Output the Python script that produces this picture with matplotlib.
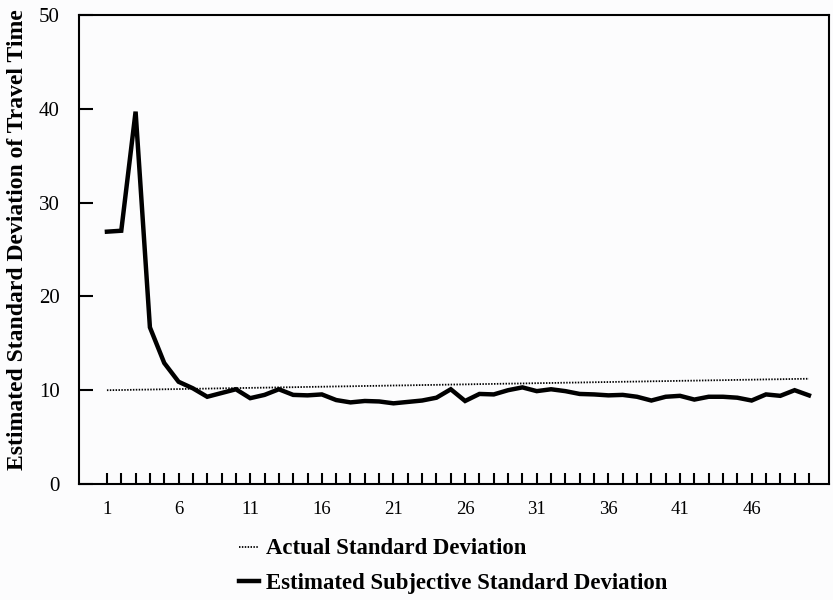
import matplotlib
matplotlib.use("Agg")
import matplotlib.pyplot as plt

# ============== Daten ==============
trials = list(range(1, 51))

estimated_sd = [
    26.9, 27.0, 39.7, 16.7, 12.9, 10.9, 10.2, 9.3, 9.7, 10.1,
    9.15, 9.5, 10.1, 9.5, 9.45, 9.55, 8.95, 8.7, 8.85, 8.8,
    8.6, 8.75, 8.9, 9.2, 10.1, 8.85, 9.6, 9.55, 10.0, 10.3,
    9.9, 10.1, 9.9, 9.6, 9.55, 9.45, 9.5, 9.3, 8.9, 9.3,
    9.4, 9.0, 9.3, 9.3, 9.2, 8.9, 9.55, 9.4, 10.0, 9.45,
]

actual_sd = [
    10.0, 10.02, 10.05, 10.07, 10.1, 10.12, 10.15, 10.17, 10.2, 10.22,
    10.25, 10.27, 10.3, 10.32, 10.35, 10.37, 10.4, 10.42, 10.45, 10.47,
    10.5, 10.52, 10.55, 10.57, 10.6, 10.62, 10.65, 10.67, 10.7, 10.72,
    10.75, 10.77, 10.8, 10.82, 10.85, 10.87, 10.9, 10.92, 10.95, 10.97,
    11.0, 11.02, 11.05, 11.07, 11.1, 11.12, 11.15, 11.17, 11.2, 11.22,
]

y_ticks = [0, 10, 20, 30, 40, 50]
x_labels = [str(t) if (t - 1) % 5 == 0 else "" for t in trials]

LABEL_ACTUAL = "Actual Standard Deviation"
LABEL_EST = "Estimated Subjective Standard Deviation"
Y_LABEL = "Estimated Standard Deviation of Travel Time"

# ============== Plot ==============
plt.rcParams["font.family"] = ["Liberation Serif", "DejaVu Serif"]

fig = plt.figure(figsize=(8.33, 6), dpi=100)
fig.patch.set_facecolor("#fcfcfd")
ax = fig.add_axes([79 / 833, 1 - 484 / 600, (829 - 79) / 833, (484 - 15) / 600])
ax.set_facecolor("#fcfcfd")

l_act, = ax.plot(trials, actual_sd, color="black", lw=1.3, linestyle=(0, (0.8, 0.8)))
l_est, = ax.plot(trials, estimated_sd, color="black", lw=3.2, solid_joinstyle="miter")

ax.set_xlim(-0.95, 51.4)
ax.set_ylim(0, 50)

ax.set_yticks(y_ticks)
ax.set_yticklabels([str(v) for v in y_ticks], fontsize=15)
ax.tick_params(axis="y", direction="in", length=10, width=1.5, pad=14)

ax.set_xticks(trials)
ax.set_xticklabels(x_labels, fontsize=13.5)
ax.tick_params(axis="x", direction="in", length=8, width=1.5, pad=12)

for sp in ax.spines.values():
    sp.set_linewidth(1.5)

ax.set_ylabel(Y_LABEL, fontsize=17, fontweight="bold")
ax.yaxis.set_label_coords(-0.068, 0.522)

fig.legend(
    [l_act, l_est], [LABEL_ACTUAL, LABEL_EST],
    loc="upper left", bbox_to_anchor=(218 / 833, 1 - 518 / 600),
    frameon=False, handlelength=0.9, handletextpad=0.3,
    labelspacing=0.6, prop={"weight": "bold", "size": 16.4},
)

fig.savefig("out.png", dpi=100, facecolor=fig.get_facecolor())
